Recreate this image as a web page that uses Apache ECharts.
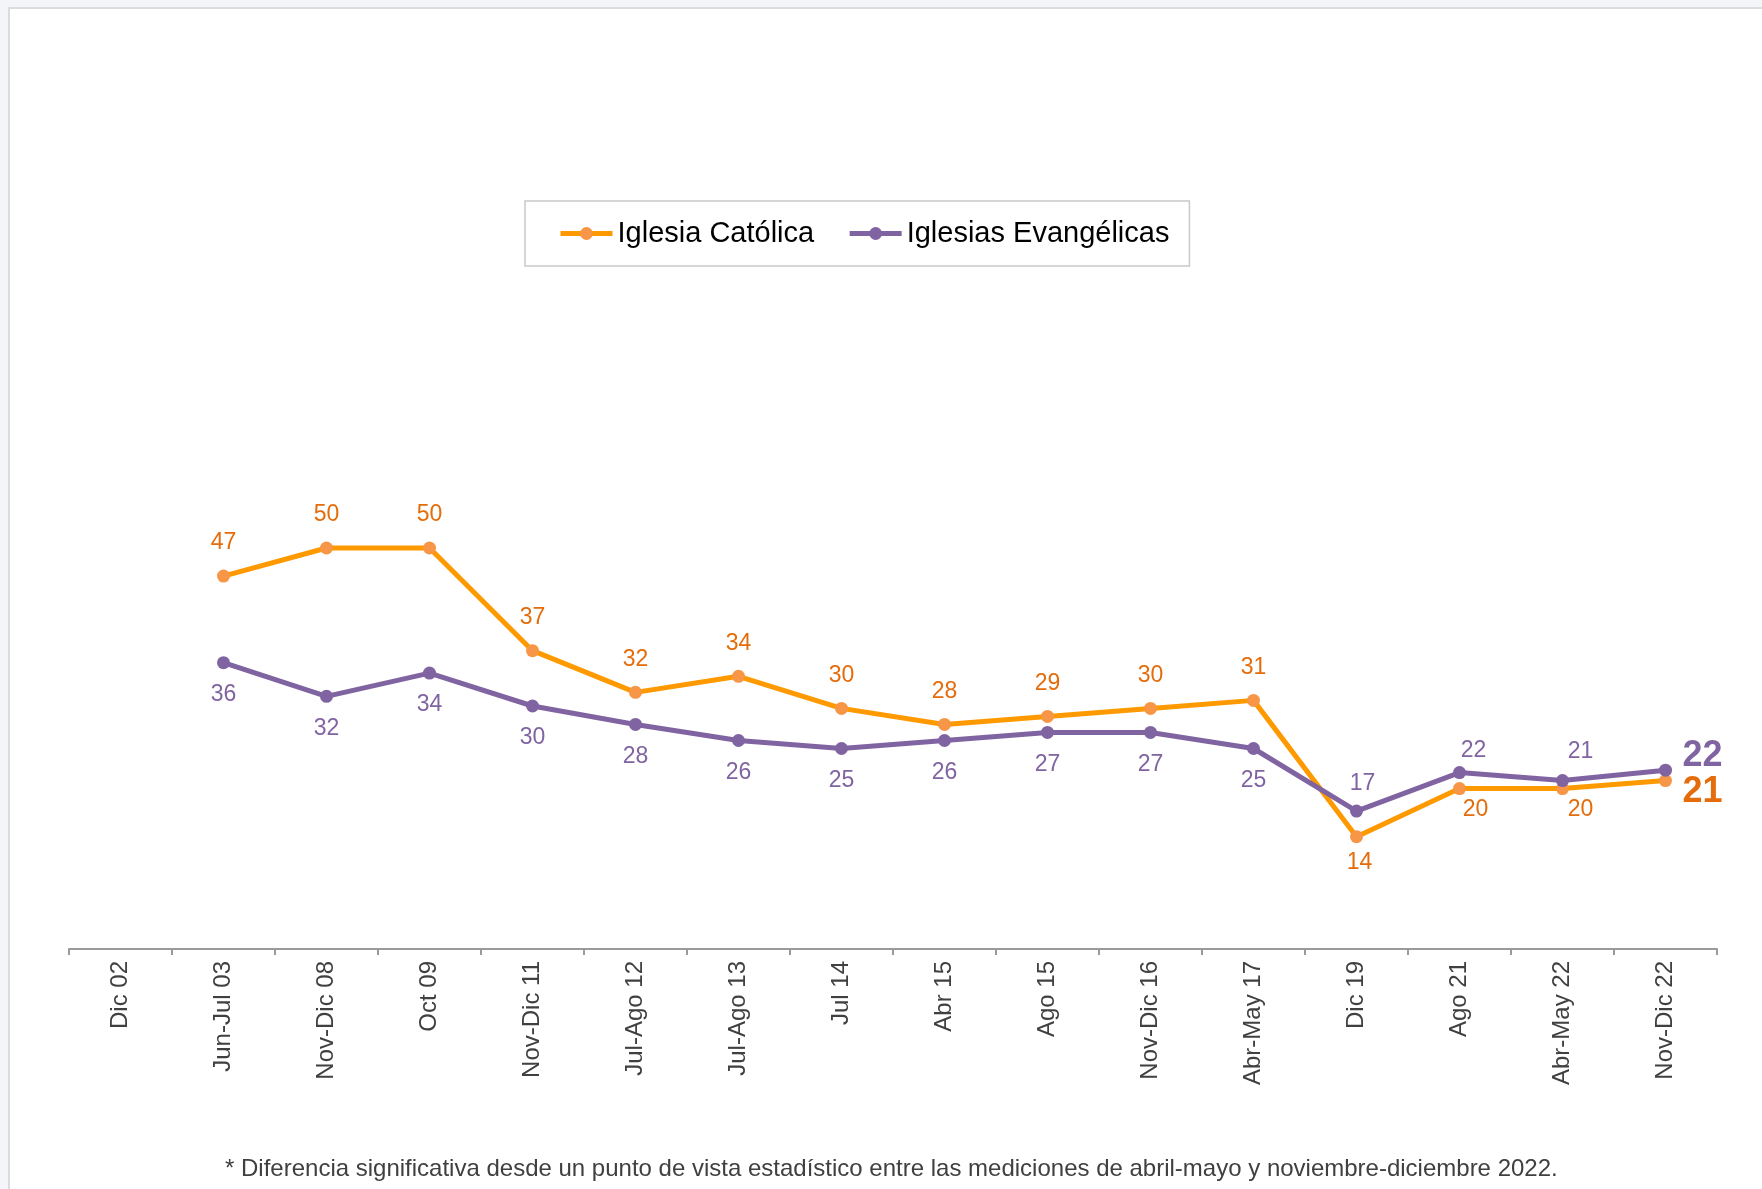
<!DOCTYPE html>
<html><head><meta charset="utf-8">
<script src="https://cdn.jsdelivr.net/npm/echarts@6/dist/echarts.min.js"></script>
<style>
html,body{margin:0;padding:0;width:1762px;height:1189px;background:#f4f5f9;overflow:hidden}
#panel{position:absolute;left:8px;top:7px;width:1800px;height:1300px;background:#fff;border:2px solid #dcdcdf;}
#chart{position:absolute;left:0;top:0;width:1762px;height:1189px}
</style></head><body><div id="panel"></div><div id="chart"></div>
<script>
// ---- data ----
const categories = ['Dic 02','Jun-Jul 03','Nov-Dic 08','Oct 09','Nov-Dic 11','Jul-Ago 12','Jul-Ago 13','Jul 14','Abr 15','Ago 15','Nov-Dic 16','Abr-May 17','Dic 19','Ago 21','Abr-May 22','Nov-Dic 22'];
const catolica    = [null, 46.5, 50, 50, 37.2, 32, 34, 30, 28, 29, 30, 31, 14, 20, 20, 21];
const evangelicas = [null, 35.7, 31.5, 34.4, 30.3, 28, 26, 25, 26, 27, 27, 25, 17.2, 22, 21, 22.3];
const seriesNames = ['Iglesia Católica', 'Iglesias Evangélicas'];
const footnote = '* Diferencia significativa desde un punto de vista estadístico entre las mediciones de abril-mayo y noviembre-diciembre 2022.';

// ---- styling ----
const FONT = '"Liberation Sans", Arial, sans-serif';
const ORANGE_LINE = '#FF9900', ORANGE_DOT = '#F79646', ORANGE_TXT = '#E46C0A';
const PURPLE = '#8064A2';
const catLabelOffsets = {12:[3,26], 13:[16,21], 14:[18,21]};
const evaLabelOffsets = {12:[6,-27], 13:[14,-22], 14:[18,-29]};

function buildData(values, txtColor, defOffset, offsets, lastOffset) {
  const last = values.length - 1;
  return values.map((v, i) => {
    if (v === null) return null;
    if (i === last) {
      return {value: v, label: {show: true, position: 'inside', align: 'left', verticalAlign: 'middle',
        offset: lastOffset, fontSize: 36, fontWeight: 'bold', color: txtColor, fontFamily: FONT,
        formatter: p => String(Math.round(p.value))}};
    }
    return {value: v, label: {offset: offsets[i] || defOffset}};
  });
}

const chart = echarts.init(document.getElementById('chart'), null, {renderer: 'canvas'});
chart.setOption({
  animation: false,
  backgroundColor: 'transparent',
  legend: {
    left: 525, top: 201,
    padding: [18, 20, 18, 33],
    borderColor: '#c9c9c9', borderWidth: 1.5, backgroundColor: '#fff',
    itemWidth: 52, itemHeight: 16, itemGap: 33,
    lineStyle: {width: 5},
    textStyle: {fontSize: 29, color: '#000', fontFamily: FONT},
    data: seriesNames
  },
  grid: {left: 69, right: 45, top: 147, bottom: 240, containLabel: false},
  xAxis: {
    type: 'category', data: categories, boundaryGap: true,
    axisLine: {lineStyle: {color: '#9a9a9a', width: 2}},
    axisTick: {show: true, length: 6, lineStyle: {color: '#9a9a9a', width: 2}},
    axisLabel: {rotate: 90, fontSize: 24, color: '#404040', fontFamily: FONT, margin: 12, interval: 0}
  },
  yAxis: {type: 'value', min: 0, max: 100, show: false, splitLine: {show: false}},
  series: [
    {
      name: seriesNames[0], type: 'line', data: buildData(catolica, ORANGE_TXT, [0,-33], catLabelOffsets, [17, 11]),
      symbol: 'circle', symbolSize: 13, showAllSymbol: true,
      lineStyle: {color: ORANGE_LINE, width: 5}, itemStyle: {color: ORANGE_DOT},
      label: {show: true, position: 'inside', fontSize: 23, color: ORANGE_TXT, fontFamily: FONT,
        formatter: p => String(Math.round(p.value))}
    },
    {
      name: seriesNames[1], type: 'line', data: buildData(evangelicas, PURPLE, [0,32], evaLabelOffsets, [17, -14]),
      symbol: 'circle', symbolSize: 13, showAllSymbol: true,
      lineStyle: {color: PURPLE, width: 5}, itemStyle: {color: PURPLE},
      label: {show: true, position: 'inside', fontSize: 23, color: PURPLE, fontFamily: FONT,
        formatter: p => String(Math.round(p.value))}
    }
  ],
  graphic: [{
    type: 'text', left: 225, top: 1157,
    style: {text: footnote, fontSize: 24, fill: '#404040', fontFamily: FONT}
  }]
});
</script></body></html>
